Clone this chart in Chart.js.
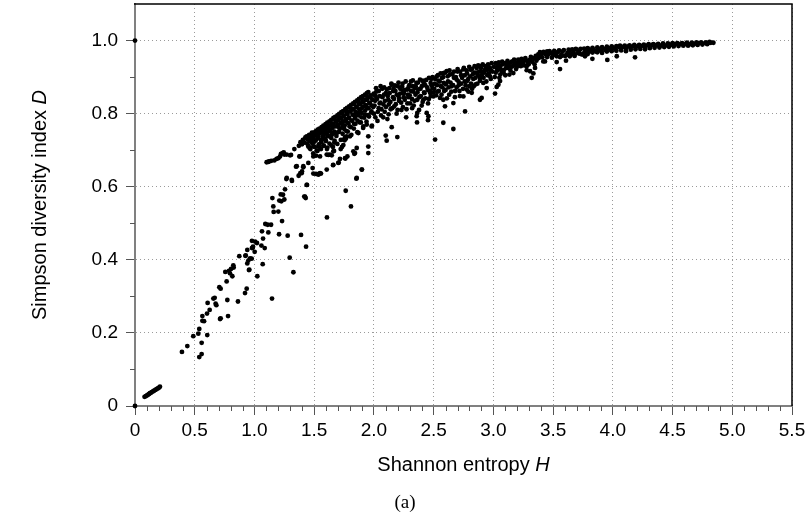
<!DOCTYPE html>
<html><head><meta charset="utf-8">
<script src="https://cdn.jsdelivr.net/npm/chart.js@4.4.0/dist/chart.umd.min.js"></script>
<style>html,body{margin:0;padding:0;background:#fff;}#wrap{width:810px;height:522px;}</style>
</head><body><div id="wrap"><canvas id="c" width="810" height="522"></canvas></div>
<script>
// ---- tick values ----
const xTickValues = [0,0.5,1.0,1.5,2.0,2.5,3.0,3.5,4.0,4.5,5.0,5.5];
const yTickValues = [0,0.2,0.4,0.6,0.8,1.0];
const xMinorTicks = [0.1,0.2,0.3,0.4,0.6,0.7,0.8,0.9,1.1,1.2,1.3,1.4,1.6,1.7,1.8,1.9,2.1,2.2,2.3,2.4,2.6,2.7,2.8,2.9,3.1,3.2,3.3,3.4,3.6,3.7,3.8,3.9,4.1,4.2,4.3,4.4,4.6,4.7,4.8,4.9,5.1,5.2,5.3,5.4];
const yMinorTicks = [0.1,0.3,0.5,0.7,0.9];
const xTitle = ["Shannon entropy ", "H"];
const yTitle = ["Simpson diversity index ", "D"];
const caption = "(a)";

// ---- data: [H, D] ----
const originPts = [[0,0],[0,1.0]];
const nearZero = [[0.08,0.025],[0.09,0.027],[0.10,0.029],[0.11,0.031],[0.118,0.033],[0.125,0.035],[0.133,0.036],[0.14,0.038],[0.15,0.040],[0.16,0.042],[0.17,0.044],[0.18,0.046],[0.19,0.048],[0.20,0.050],[0.209,0.053]];
const lowerArm = [[0.393,0.148],[0.438,0.164],[0.488,0.191],[0.53,0.198],[0.538,0.211],[0.558,0.173],[0.558,0.142],[0.538,0.134],[0.605,0.194],[0.564,0.233],[0.578,0.232],[0.564,0.246],[0.603,0.253],[0.625,0.263],[0.608,0.282],[0.656,0.294],[0.667,0.296],[0.675,0.28],[0.681,0.276],[0.712,0.238],[0.717,0.24],[0.779,0.246],[0.773,0.29],[0.706,0.325],[0.717,0.321],[0.767,0.341],[0.756,0.367],[0.787,0.37],[0.795,0.363],[0.804,0.375],[0.815,0.355],[0.823,0.385],[0.826,0.379],[0.862,0.286],[0.921,0.309],[0.935,0.321],[0.873,0.41],[0.927,0.412],[0.94,0.39],[0.949,0.398],[0.954,0.372],[0.94,0.427],[0.963,0.404],[0.977,0.403],[0.979,0.432],[1.002,0.422],[0.988,0.436],[1.005,0.45],[1.021,0.446],[1.024,0.355],[1.069,0.388],[1.058,0.439],[1.086,0.432],[1.147,0.294],[1.295,0.406],[1.326,0.366],[1.432,0.436],[0.924,0.411],[0.957,0.373],[0.985,0.433],[0.979,0.452],[1.072,0.458],[1.063,0.478],[1.091,0.498],[1.111,0.496],[1.139,0.496],[1.116,0.475],[1.161,0.531],[1.2,0.532],[1.158,0.546],[1.15,0.569],[1.231,0.506],[1.206,0.47],[1.278,0.466],[1.39,0.468],[1.208,0.562],[1.225,0.56],[1.239,0.578],[1.25,0.565],[1.22,0.579],[1.256,0.593],[1.267,0.621],[1.314,0.616],[1.37,0.63],[1.384,0.637],[1.398,0.642],[1.409,0.653],[1.348,0.655],[1.417,0.573],[1.429,0.569],[1.44,0.605],[1.607,0.516],[1.764,0.589],[1.808,0.546],[1.853,0.622],[1.9,0.647],[1.312,0.619],[1.27,0.624]];
const upperBranch = [[1.102,0.667],[1.115,0.668],[1.122,0.669],[1.14,0.671],[1.166,0.672],[1.185,0.676],[1.2,0.678],[1.214,0.683],[1.222,0.69],[1.236,0.692],[1.245,0.694],[1.25,0.688],[1.27,0.688],[1.298,0.686],[1.437,0.733],[1.451,0.736],[1.466,0.741],[1.484,0.744],[1.497,0.748],[1.512,0.751],[1.529,0.756],[1.544,0.759],[1.562,0.763],[1.577,0.767],[1.595,0.771],[1.61,0.775],[1.628,0.779],[1.643,0.783],[1.661,0.788],[1.676,0.791],[1.694,0.795],[1.709,0.799],[1.727,0.804],[1.742,0.807],[1.76,0.812],[1.775,0.816],[1.793,0.82],[1.809,0.824],[1.826,0.828],[1.842,0.832],[1.86,0.836],[1.875,0.84],[1.893,0.845],[1.908,0.848],[1.926,0.852],[1.941,0.856],[1.953,0.859],[1.445,0.731],[1.475,0.739],[1.505,0.746],[1.535,0.753],[1.57,0.762],[1.6,0.769],[1.635,0.778],[1.668,0.786],[1.7,0.794],[1.735,0.802],[1.768,0.81],[1.8,0.818],[1.834,0.826],[1.868,0.834],[1.9,0.842],[1.934,0.85]];
const midBand = [[1.372,0.712],[1.385,0.722],[1.398,0.716],[1.405,0.728],[1.418,0.721],[1.426,0.735],[1.441,0.718],[1.447,0.729],[1.458,0.742],[1.466,0.724],[1.474,0.736],[1.481,0.748],[1.489,0.731],[1.502,0.739],[1.508,0.726],[1.516,0.752],[1.523,0.741],[1.531,0.733],[1.542,0.745],[1.548,0.757],[1.556,0.728],[1.563,0.748],[1.571,0.738],[1.579,0.755],[1.586,0.744],[1.592,0.732],[1.603,0.758],[1.611,0.747],[1.618,0.762],[1.624,0.738],[1.632,0.755],[1.641,0.768],[1.648,0.742],[1.653,0.761],[1.662,0.772],[1.669,0.751],[1.676,0.765],[1.684,0.778],[1.691,0.748],[1.697,0.769],[1.705,0.783],[1.713,0.758],[1.719,0.774],[1.727,0.788],[1.735,0.762],[1.741,0.779],[1.748,0.794],[1.756,0.768],[1.763,0.785],[1.771,0.752],[1.778,0.798],[1.786,0.774],[1.792,0.789],[1.799,0.806],[1.807,0.763],[1.813,0.781],[1.821,0.797],[1.828,0.812],[1.834,0.772],[1.842,0.788],[1.849,0.804],[1.856,0.818],[1.863,0.781],[1.871,0.795],[1.878,0.811],[1.884,0.826],[1.891,0.776],[1.897,0.802],[1.905,0.818],[1.912,0.832],[1.919,0.789],[1.926,0.808],[1.933,0.823],[1.941,0.838],[1.948,0.796],[1.955,0.815],[1.962,0.83],[1.969,0.845],[1.976,0.803],[1.983,0.822],[1.991,0.838],[1.998,0.852]];
const midBand2 = [[1.452,0.712],[1.461,0.729],[1.468,0.703],[1.476,0.735],[1.485,0.718],[1.492,0.691],[1.499,0.741],[1.506,0.709],[1.513,0.727],[1.519,0.745],[1.527,0.698],[1.534,0.734],[1.539,0.716],[1.546,0.752],[1.553,0.705],[1.559,0.722],[1.566,0.757],[1.574,0.731],[1.581,0.712],[1.588,0.748],[1.596,0.726],[1.601,0.761],[1.607,0.703],[1.614,0.739],[1.621,0.766],[1.628,0.718],[1.636,0.752],[1.643,0.733],[1.651,0.771],[1.657,0.709],[1.664,0.746],[1.671,0.726],[1.679,0.78],[1.686,0.739],[1.694,0.717],[1.701,0.764],[1.708,0.75],[1.716,0.788],[1.723,0.728],[1.731,0.772],[1.738,0.745],[1.745,0.794],[1.752,0.758],[1.759,0.736],[1.767,0.779],[1.774,0.802],[1.781,0.751],[1.789,0.788],[1.796,0.765],[1.803,0.806],[1.811,0.742],[1.818,0.781],[1.825,0.812],[1.832,0.759],[1.839,0.795],[1.846,0.772],[1.853,0.818],[1.861,0.749],[1.868,0.801],[1.875,0.826],[1.882,0.776],[1.889,0.812],[1.896,0.79],[1.903,0.832],[1.91,0.761],[1.917,0.82],[1.924,0.797],[1.931,0.838],[1.938,0.778],[1.945,0.815],[1.952,0.844],[1.959,0.792],[1.966,0.828],[1.973,0.85],[1.98,0.806],[1.987,0.838],[1.994,0.818],[1.999,0.855]];
const lowBands = [[1.437,0.738],[1.381,0.683],[1.409,0.656],[1.395,0.637],[1.437,0.605],[1.423,0.573],[1.493,0.71],[1.549,0.683],[1.605,0.688],[1.66,0.697],[1.744,0.729],[1.8,0.738],[1.87,0.747],[1.911,0.765],[1.94,0.77],[1.981,0.765],[1.953,0.738],[1.493,0.636],[1.549,0.637],[1.605,0.647],[1.66,0.66],[1.702,0.665],[1.758,0.678],[1.842,0.692],[1.856,0.706],[1.898,0.647],[1.856,0.624],[1.953,0.692],[1.953,0.71],[1.451,0.71],[1.521,0.699],[1.493,0.683],[1.535,0.633],[1.633,0.688],[1.772,0.738],[1.451,0.665],[1.487,0.651],[1.515,0.635],[1.538,0.635],[1.557,0.636],[1.658,0.659],[1.705,0.666],[1.984,0.767],[1.722,0.703],[1.733,0.709],[1.744,0.714],[1.755,0.727],[1.766,0.732],[1.666,0.698],[1.647,0.686],[1.619,0.687],[1.61,0.707],[1.644,0.713],[1.515,0.685],[1.538,0.711],[1.577,0.713],[1.557,0.703],[1.526,0.699],[1.462,0.706],[1.465,0.738],[1.496,0.721],[1.599,0.725],[1.669,0.721],[1.761,0.677],[1.778,0.683],[1.836,0.69],[1.828,0.697],[1.716,0.676],[1.354,0.656],[1.334,0.703],[1.306,0.687],[1.376,0.683]];
const cloud20 = [[2.00,0.80],[2.01,0.835],[2.02,0.86],[2.03,0.78],[2.04,0.815],[2.05,0.848],[2.06,0.795],[2.07,0.868],[2.08,0.825],[2.09,0.805],[2.10,0.856],[2.099,0.74],[2.107,0.726],[2.113,0.785],[2.12,0.838],[2.13,0.87],[2.14,0.812],[2.149,0.763],[2.15,0.879],[2.16,0.845],[2.17,0.82],[2.18,0.862],[2.19,0.80],[2.196,0.736],[2.20,0.875],[2.21,0.835],[2.22,0.855],[2.23,0.81],[2.24,0.882],[2.25,0.845],[2.26,0.865],[2.27,0.79],[2.28,0.828],[2.29,0.872],[2.30,0.85],[2.31,0.888],[2.32,0.815],[2.33,0.86],[2.34,0.835],[2.35,0.875],[2.358,0.793],[2.361,0.776],[2.363,0.802],[2.37,0.885],[2.38,0.845],[2.39,0.868],[2.40,0.822],[2.41,0.89],[2.414,0.838],[2.42,0.858],[2.43,0.878],[2.442,0.802],[2.45,0.865],[2.453,0.782],[2.456,0.793],[2.46,0.84],[2.47,0.857],[2.475,0.884],[2.48,0.895],[2.49,0.87],[2.498,0.847],[2.512,0.729],[2.015,0.848],[2.055,0.83],[2.085,0.852],[2.125,0.825],[2.165,0.868],[2.205,0.848],[2.245,0.862],[2.285,0.852],[2.325,0.875],[2.365,0.858]];
const cloud20b = [[2.005,0.822],[2.012,0.79],[2.018,0.87],[2.026,0.84],[2.033,0.805],[2.041,0.862],[2.048,0.828],[2.056,0.875],[2.063,0.812],[2.071,0.845],[2.078,0.79],[2.086,0.872],[2.093,0.835],[2.101,0.818],[2.108,0.866],[2.116,0.848],[2.123,0.798],[2.131,0.856],[2.138,0.832],[2.146,0.882],[2.153,0.815],[2.161,0.862],[2.168,0.84],[2.176,0.877],[2.183,0.826],[2.191,0.852],[2.198,0.81],[2.206,0.885],[2.213,0.842],[2.221,0.868],[2.228,0.83],[2.236,0.874],[2.243,0.818],[2.251,0.856],[2.258,0.838],[2.266,0.888],[2.273,0.812],[2.281,0.866],[2.288,0.845],[2.296,0.878],[2.303,0.828],[2.311,0.862],[2.318,0.84],[2.326,0.891],[2.333,0.822],[2.341,0.87],[2.348,0.852],[2.356,0.884],[2.363,0.838],[2.371,0.866],[2.378,0.81],[2.386,0.893],[2.393,0.848],[2.401,0.875],[2.408,0.832],[2.416,0.885],[2.423,0.856],[2.431,0.842],[2.438,0.892],[2.446,0.872],[2.453,0.828],[2.461,0.898],[2.468,0.862],[2.476,0.848],[2.483,0.878],[2.491,0.9],[2.498,0.858]];
const cloud25 = [[2.51,0.882],[2.526,0.902],[2.53,0.86],[2.54,0.89],[2.554,0.843],[2.56,0.875],[2.57,0.898],[2.581,0.775],[2.581,0.838],[2.585,0.884],[2.581,0.911],[2.595,0.82],[2.60,0.865],[2.609,0.916],[2.62,0.888],[2.63,0.852],[2.637,0.907],[2.65,0.875],[2.665,0.758],[2.665,0.829],[2.67,0.898],[2.68,0.862],[2.693,0.893],[2.70,0.915],[2.71,0.878],[2.72,0.848],[2.73,0.905],[2.749,0.847],[2.749,0.921],[2.76,0.888],[2.763,0.806],[2.777,0.866],[2.78,0.91],[2.79,0.895],[2.80,0.875],[2.81,0.92],[2.819,0.857],[2.822,0.868],[2.832,0.895],[2.84,0.912],[2.85,0.88],[2.86,0.925],[2.87,0.905],[2.888,0.838],[2.888,0.898],[2.888,0.93],[2.90,0.915],[2.902,0.843],[2.916,0.884],[2.93,0.92],[2.944,0.87],[2.95,0.905],[2.96,0.928],[2.972,0.902],[2.98,0.918]];
const cloud25b = [[2.505,0.868],[2.513,0.895],[2.521,0.85],[2.528,0.878],[2.536,0.905],[2.543,0.862],[2.551,0.888],[2.558,0.91],[2.566,0.852],[2.573,0.872],[2.581,0.9],[2.588,0.862],[2.596,0.912],[2.603,0.88],[2.611,0.842],[2.618,0.902],[2.626,0.872],[2.633,0.918],[2.641,0.885],[2.648,0.86],[2.656,0.908],[2.663,0.878],[2.671,0.915],[2.678,0.845],[2.686,0.9],[2.693,0.872],[2.701,0.922],[2.708,0.888],[2.716,0.862],[2.723,0.915],[2.731,0.882],[2.738,0.898],[2.746,0.868],[2.753,0.925],[2.761,0.905],[2.768,0.878],[2.776,0.918],[2.783,0.89],[2.791,0.86],[2.798,0.928],[2.806,0.902],[2.813,0.882],[2.821,0.922],[2.828,0.908],[2.836,0.875],[2.843,0.93],[2.851,0.898],[2.858,0.912],[2.866,0.882],[2.873,0.932],[2.881,0.915],[2.888,0.89],[2.896,0.925],[2.903,0.905],[2.911,0.935],[2.918,0.898],[2.926,0.912],[2.933,0.93],[2.941,0.888],[2.948,0.92],[2.956,0.935],[2.963,0.91],[2.971,0.925],[2.978,0.895],[2.986,0.938],[2.993,0.915]];
const cloud30 = [[3.014,0.855],[3.02,0.912],[3.028,0.873],[3.028,0.925],[3.04,0.932],[3.042,0.879],[3.05,0.898],[3.056,0.889],[3.058,0.907],[3.056,0.93],[3.07,0.915],[3.08,0.935],[3.09,0.92],[3.10,0.905],[3.112,0.934],[3.12,0.925],[3.134,0.907],[3.139,0.939],[3.15,0.928],[3.167,0.911],[3.167,0.943],[3.18,0.935],[3.19,0.922],[3.20,0.94],[3.223,0.943],[3.23,0.93],[3.251,0.934],[3.26,0.945],[3.279,0.919],[3.279,0.93],[3.29,0.94],[3.307,0.916],[3.307,0.948],[3.321,0.898],[3.335,0.91],[3.349,0.925],[3.36,0.945],[3.005,0.928],[3.012,0.9],[3.021,0.938],[3.033,0.918],[3.046,0.94],[3.061,0.922],[3.074,0.942],[3.085,0.912],[3.097,0.938],[3.106,0.925],[3.118,0.944],[3.128,0.93],[3.143,0.918],[3.155,0.942],[3.162,0.93],[3.174,0.948],[3.186,0.938],[3.197,0.928],[3.208,0.948],[3.215,0.935],[3.236,0.95],[3.244,0.94],[3.258,0.932],[3.268,0.952],[3.285,0.945],[3.296,0.935],[3.314,0.955],[3.325,0.942],[3.338,0.952],[3.345,0.935],[3.355,0.958],[3.365,0.95]];
const tailBand = [[3.376,0.962],[3.40,0.958],[3.418,0.966],[3.418,0.943],[3.432,0.943],[3.44,0.962],[3.46,0.962],[3.48,0.966],[3.50,0.96],[3.502,0.968],[3.52,0.964],[3.53,0.941],[3.54,0.968],[3.558,0.922],[3.558,0.955],[3.57,0.962],[3.58,0.97],[3.60,0.958],[3.608,0.945],[3.62,0.966],[3.64,0.972],[3.65,0.962],[3.67,0.968],[3.68,0.958],[3.698,0.975],[3.71,0.966],[3.72,0.972],[3.74,0.962],[3.753,0.962],[3.767,0.957],[3.77,0.974],[3.79,0.968],[3.80,0.976],[3.82,0.97],[3.829,0.95],[3.84,0.975],[3.86,0.97],[3.88,0.978],[3.90,0.972],[3.92,0.978],[3.94,0.974],[3.954,0.947],[3.96,0.98],[3.98,0.975],[4.00,0.981],[4.02,0.976],[4.033,0.957],[4.05,0.982],[4.07,0.978],[4.09,0.983],[4.11,0.979],[4.13,0.984],[4.15,0.98],[4.17,0.985],[4.186,0.954],[4.19,0.981],[4.21,0.985],[4.23,0.982],[4.25,0.986],[4.27,0.983],[4.29,0.987],[4.31,0.984],[4.33,0.988],[4.35,0.985],[4.37,0.988],[4.40,0.986],[4.42,0.989],[4.45,0.987],[4.47,0.99],[4.50,0.988],[4.52,0.99],[4.55,0.989],[4.57,0.991],[4.60,0.99],[4.62,0.992],[4.65,0.99],[4.67,0.992],[4.70,0.991],[4.72,0.993],[4.75,0.992],[4.78,0.993],[4.80,0.993],[4.82,0.994],[4.842,0.994]];
const tailBand2 = [[3.39,0.968],[3.42,0.969],[3.45,0.97],[3.47,0.971],[3.51,0.972],[3.55,0.973],[3.59,0.974],[3.63,0.975],[3.66,0.976],[3.69,0.977],[3.73,0.977],[3.76,0.978],[3.79,0.979],[3.83,0.98],[3.87,0.981],[3.91,0.982],[3.95,0.983],[3.99,0.984],[4.03,0.985],[4.06,0.986],[4.10,0.986],[4.14,0.987],[4.18,0.988],[4.22,0.988],[4.26,0.989],[4.30,0.99],[4.34,0.99],[4.38,0.991],[4.42,0.992],[4.46,0.992],[4.50,0.993],[4.54,0.993],[4.58,0.993],[4.62,0.994],[4.66,0.994],[4.70,0.995],[4.74,0.995],[4.78,0.995],[4.81,0.996]];
const tailBand3 = [[3.38,0.952],[3.41,0.954],[3.45,0.955],[3.49,0.953],[3.53,0.957],[3.57,0.958],[3.61,0.96],[3.64,0.957],[3.68,0.962],[3.72,0.964],[3.76,0.966],[3.79,0.963],[3.83,0.967],[3.87,0.968],[3.91,0.966],[3.95,0.97],[3.99,0.971],[4.03,0.972],[4.07,0.973],[4.11,0.971],[4.15,0.975],[4.19,0.976],[4.23,0.977],[4.27,0.976],[4.31,0.979],[4.35,0.98],[4.39,0.981],[4.43,0.982],[4.47,0.983],[4.51,0.984],[4.55,0.985],[4.59,0.986],[4.63,0.986],[4.67,0.987],[4.71,0.988],[4.75,0.989],[4.79,0.99]];

const allPoints = [].concat(originPts, nearZero, lowerArm, upperBranch, midBand, midBand2, lowBands, cloud20, cloud20b, cloud25, cloud25b, cloud30, tailBand, tailBand2, tailBand3).map(p => ({x:p[0], y:p[1]}));

const FONT = '"Liberation Sans", Arial, sans-serif';
const fmt = v => (Math.abs(v) < 1e-9 ? '0' : Number(v).toFixed(1));

const decorPlugin = {
  id: 'decor',
  afterDraw(chart) {
    const ctx = chart.ctx, a = chart.chartArea;
    const xs = chart.scales.x, ys = chart.scales.y;
    ctx.save();
    ctx.strokeStyle = '#555'; ctx.lineWidth = 1;
    ctx.beginPath();
    xMinorTicks.forEach(v => { const px = Math.round(xs.getPixelForValue(v)) + 0.5; ctx.moveTo(px, a.bottom); ctx.lineTo(px, a.bottom + 5); });
    yMinorTicks.forEach(v => { const py = Math.round(ys.getPixelForValue(v)) + 0.5; ctx.moveTo(a.left, py); ctx.lineTo(a.left - 5, py); });
    ctx.stroke();
    ctx.strokeStyle = '#000'; ctx.lineWidth = 1.5;
    ctx.beginPath();
    ctx.moveTo(a.left - 1, a.top); ctx.lineTo(a.right, a.top); ctx.lineTo(a.right, a.bottom);
    ctx.stroke();
    ctx.fillStyle = '#000';
    ctx.textBaseline = 'middle';
    const drawMixed = (parts, cx, cy) => {
      ctx.font = '20px ' + FONT; const w1 = ctx.measureText(parts[0]).width;
      ctx.font = 'italic 20px ' + FONT; const w2 = ctx.measureText(parts[1]).width;
      const x0 = cx - (w1 + w2) / 2;
      ctx.textAlign = 'left';
      ctx.font = '20px ' + FONT; ctx.fillText(parts[0], x0, cy);
      ctx.font = 'italic 20px ' + FONT; ctx.fillText(parts[1], x0 + w1, cy);
    };
    drawMixed(xTitle, (a.left + a.right) / 2, 465);
    ctx.save();
    ctx.translate(40, (a.top + a.bottom) / 2);
    ctx.rotate(-Math.PI / 2);
    drawMixed(yTitle, 0, 0);
    ctx.restore();
    ctx.font = '19px "Liberation Serif", "DejaVu Serif", serif';
    ctx.textAlign = 'center';
    ctx.fillText(caption, 405, 503);
    ctx.restore();
  }
};

new Chart(document.getElementById('c'), {
  type: 'scatter',
  data: { datasets: [{ data: allPoints, backgroundColor: '#000', borderWidth: 0, pointRadius: 2.4, pointHoverRadius: 2.4, clip: false }] },
  options: {
    responsive: false, animation: false, events: [], devicePixelRatio: 1,
    layout: { padding: { left: 0, right: 18, top: 4, bottom: 0 } },
    plugins: { legend: { display: false }, tooltip: { enabled: false } },
    scales: {
      x: {
        type: 'linear', min: 0, max: 5.5,
        afterFit(s) { s.height = 116; s.paddingLeft = 0; s.paddingRight = 0; },
        afterBuildTicks(s) { s.ticks = xTickValues.map(v => ({ value: v })); },
        ticks: { callback: fmt, font: { family: FONT, size: 19 }, color: '#000', padding: 4, maxRotation: 0, autoSkip: false },
        grid: { color: '#9a9a9a', lineWidth: 1, tickLength: 9, tickColor: '#555', tickWidth: 1 },
        border: { color: '#808080', width: 2, dash: [1, 3] }
      },
      y: {
        type: 'linear', min: 0, max: 1.1,
        afterFit(s) { s.width = 135; s.paddingTop = 0; s.paddingBottom = 0; },
        afterBuildTicks(s) { s.ticks = yTickValues.map(v => ({ value: v })); },
        ticks: { callback: fmt, font: { family: FONT, size: 19 }, color: '#000', padding: 8, autoSkip: false },
        grid: { color: '#9a9a9a', lineWidth: 1, tickLength: 9, tickColor: '#555', tickWidth: 1 },
        border: { color: '#808080', width: 2, dash: [1, 3] }
      }
    }
  },
  plugins: [decorPlugin]
});
</script>
</body></html>
